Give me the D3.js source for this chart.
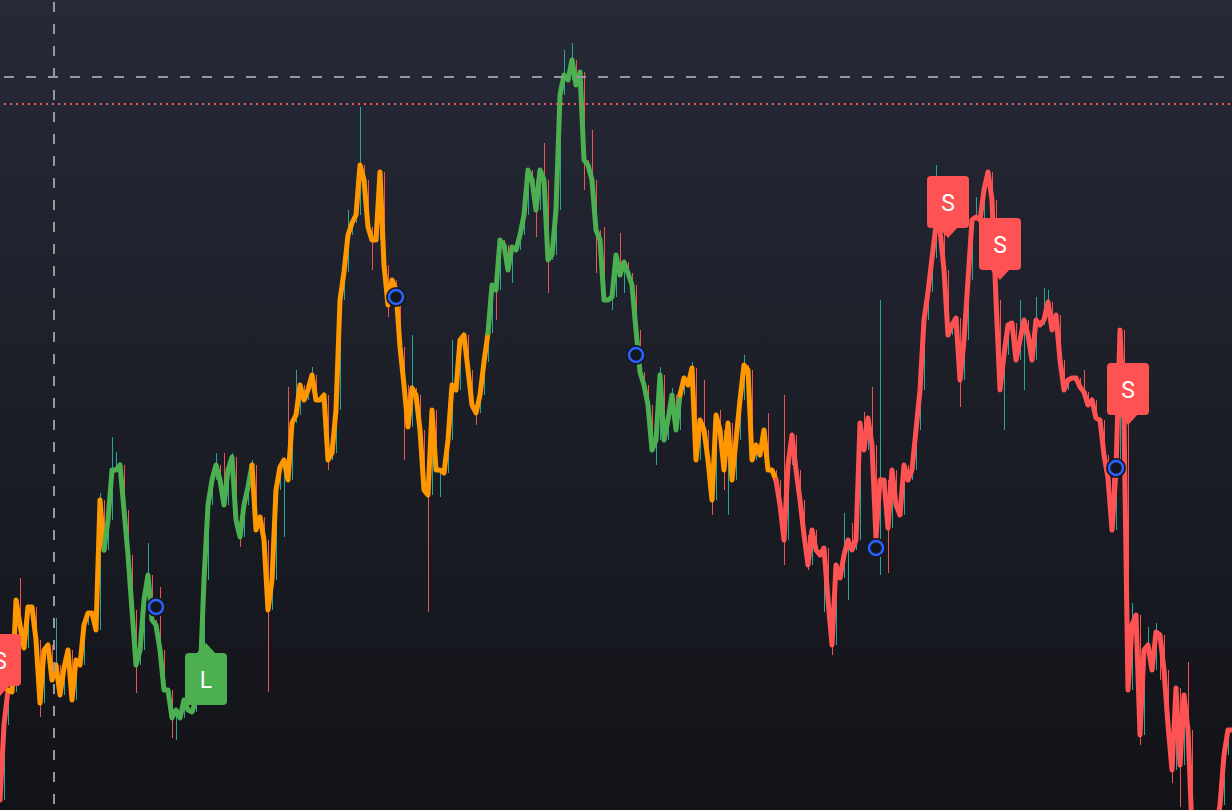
<!DOCTYPE html>
<html><head><meta charset="utf-8">
<script src="https://cdn.jsdelivr.net/npm/d3@7/dist/d3.min.js"></script>
<style>html,body{margin:0;padding:0;background:#131722;overflow:hidden}svg{display:block}</style>
</head><body><svg id="c" width="1232" height="810"></svg>
<script>
// ---- data (price units) ----
const closes = [
100,175,210,208,300,275,252,293,293,260,197,250,255,220,235,205,232,250,200,240,
235,275,287,287,270,400,350,380,430,430,435,390,345,290,235,250,300,325,280,275,
250,210,210,182,190,182,200,190,188,200,220,320,395,420,435,420,395,430,443,380,
363,395,413,435,370,383,360,290,320,410,433,440,420,477,485,515,500,510,525,500,
500,505,440,447,490,600,628,665,677,685,735,720,673,660,660,728,635,595,620,610,
553,515,473,512,505,470,410,405,490,430,430,427,460,515,510,560,565,530,495,487,
505,538,567,615,610,660,655,630,653,650,665,685,730,720,690,730,720,640,645,690,
805,825,820,840,815,828,740,735,720,670,660,600,600,603,645,625,638,627,615,570,
528,515,495,450,460,525,460,480,505,470,505,522,515,532,440,480,470,440,400,485,
470,430,477,420,460,500,535,530,440,455,445,470,430,430,420,395,360,435,465,430,
400,365,335,370,350,345,352,300,255,335,322,345,360,350,360,477,450,482,455,362,
420,420,372,430,395,385,435,420,430,470,510,580,608,642,675,670,630,565,575,582,
520,560,620,680,683,680,710,728,700,600,510,545,575,577,540,560,580,565,540,580,
575,580,598,570,585,540,510,520,522,522,513,508,495,500,482,480,445,422,370,430,
570,480,210,275,285,165,250,255,230,268,265,230,175,130,212,135,205,170,70,50,
40,40,50,55,70,95,145,170,170
];
const wickIdx  = [90,107,143,141,220,222,234,67,196,103,34,37,44,43,285,295,251,206,208,28,14,5,10,182,137,155,113,218,216,240,262,56,71,72,164,178,
  25,29,40,54,58,63,60,74,78,82,87,93,97,101,105,110,119,121,124,128,131,134,136,146,148,149,151,153,156,165,168,173,176,180,181,186,192,202,211,212,213,244,255,256,259,261,271,283,287,289,290,293,297];
const wickHigh = [793,null,857,850,600,null,735,null,505,565,null,357,null,null,null,null,null,null,null,463,282,322,null,null,null,667,560,513,488,null,610,447,null,513,null,null,
  407,448,313,447,447,440,null,530,533,null,690,null,null,null,null,null,null,553,null,null,695,null,757,null,770,null,673,null,null,533,512,538,520,490,null,545,487,null,387,null,377,703,600,null,603,612,530,297,273,277,null,null,238];
const wickLow  = [null,288,null,null,325,327,null,208,335,null,207,null,160,162,155,93,470,288,245,null,null,null,183,385,607,null,null,null,null,493,null,null,363,null,435,385,
  null,null,null,null,null,null,353,null,null,430,null,630,583,440,433,403,475,null,580,617,null,663,null,710,null,627,null,590,607,null,null,null,null,null,410,null,null,330,null,300,null,null,null,510,null,null,null,null,null,null,220,117,null];

const regimeStart = [0, 3, 27, 64, 123, 171, 195];
const regimeColor = ["#ff5252", "#ff9800", "#4caf50", "#ff9800", "#4caf50", "#ff9800", "#ff5252"];

const circleIdx   = [39, 99, 159, 219, 279];
const circlePrice = [293, 603, 545, 352, 432];

const labelIdx   = [0, 51, 237, 250, 282];
const labelPrice = [204, 257, 662, 620, 475];
const labelText  = ["S", "L", "S", "S", "S"];
const labelDir   = ["down", "up", "down", "down", "down"];

const dashedLevel = [823];
const dottedLevel = [796];
const vLineIdx = [13.5];

// ---- chart ----
const W = 1232, H = 810;
const svg = d3.select("#c");
const x = d3.scaleLinear().domain([0, closes.length - 1]).range([0, (closes.length - 1) * 4]);
const y = d3.scaleLinear().domain([90, 900]).range([H, 0]);

const defs = svg.append("defs");
const g = defs.append("linearGradient").attr("id", "bg").attr("x1", 0).attr("y1", 0).attr("x2", 0).attr("y2", 1);
g.append("stop").attr("offset", "0%").attr("stop-color", "#262a37");
g.append("stop").attr("offset", "100%").attr("stop-color", "#121318");
svg.append("rect").attr("width", W).attr("height", H).attr("fill", "url(#bg)");

// wicks
const wickMap = new Map(wickIdx.map((k, j) => [k, [wickHigh[j], wickLow[j]]]));
const bars = closes.map((c, i) => {
  const o = i > 0 ? closes[i - 1] : c;
  const w = wickMap.get(i) || [null, null];
  const hi = Math.max(o, c, w[0] ?? -Infinity);
  const lo = Math.min(o, c, w[1] ?? Infinity);
  return { i, o, c, hi, lo };
});
svg.append("g").selectAll("line").data(bars).join("line")
  .attr("x1", d => x(d.i) + 0.5).attr("x2", d => x(d.i) + 0.5)
  .attr("y1", d => y(d.hi)).attr("y2", d => y(d.lo))
  .attr("stroke", d => d.c >= d.o ? "#26a69a" : "#ef5350")
  .attr("stroke-width", 1);

// coloured close line
const line = d3.line().x(d => x(d[0])).y(d => y(d[1]));
regimeStart.forEach((s, r) => {
  const e = r + 1 < regimeStart.length ? regimeStart[r + 1] : closes.length;
  const pts = [];
  for (let i = Math.max(0, s - 1); i < e; i++) pts.push([i, closes[i]]);
  svg.append("path").attr("d", line(pts)).attr("fill", "none")
    .attr("stroke", regimeColor[r]).attr("stroke-width", 5)
    .attr("stroke-linejoin", "round").attr("stroke-linecap", "round");
});

// circles
const cg = svg.append("g");
circleIdx.forEach((k, j) => {
  cg.append("circle").attr("cx", x(k)).attr("cy", y(circlePrice[j])).attr("r", 10).attr("fill", "#15171e");
  cg.append("circle").attr("cx", x(k)).attr("cy", y(circlePrice[j])).attr("r", 7)
    .attr("fill", "none").attr("stroke", "#2962ff").attr("stroke-width", 2.5);
});

// labels
const lg = svg.append("g");
const bw = 42, bh = 52, ph = 10, pw = 10;
labelIdx.forEach((k, j) => {
  const cx = x(k) + (labelDir[j] === "up" ? 2 : 0), ty = y(labelPrice[j]);
  const col = labelText[j] === "L" ? "#4caf50" : "#ff5252";
  let by, tri;
  if (labelDir[j] === "down") {
    by = ty - ph - bh;
    tri = [[cx - pw, ty - ph - 1], [cx + pw, ty - ph - 1], [cx, ty]];
  } else {
    by = ty + ph;
    tri = [[cx - pw, ty + ph + 1], [cx + pw, ty + ph + 1], [cx, ty]];
  }
  lg.append("rect").attr("x", cx - bw / 2).attr("y", by).attr("width", bw).attr("height", bh)
    .attr("rx", 4).attr("fill", col);
  lg.append("polygon").attr("points", tri.map(p => p.join(",")).join(" ")).attr("fill", col);
  lg.append("text").attr("x", cx).attr("y", by + bh / 2 + 8.5).attr("text-anchor", "middle")
    .attr("font-family", "Roboto, 'Noto Sans', sans-serif").attr("font-size", 23)
    .attr("fill", "#ffffff").text(labelText[j]);
});

// reference lines (on top)
dashedLevel.forEach(p => svg.append("line").attr("x1", 4).attr("x2", W).attr("y1", y(p)).attr("y2", y(p))
  .attr("stroke", "#9598a1").attr("stroke-width", 2).attr("stroke-dasharray", "10,12"));
dottedLevel.forEach(p => svg.append("line").attr("x1", 4).attr("x2", W).attr("y1", y(p)).attr("y2", y(p))
  .attr("stroke", "#f7525f").attr("stroke-width", 2).attr("stroke-dasharray", "2,4"));
vLineIdx.forEach(k => svg.append("line").attr("x1", x(k)).attr("x2", x(k)).attr("y1", 2).attr("y2", H)
  .attr("stroke", "#9598a1").attr("stroke-width", 2).attr("stroke-dasharray", "10,12"));
</script></body></html>
